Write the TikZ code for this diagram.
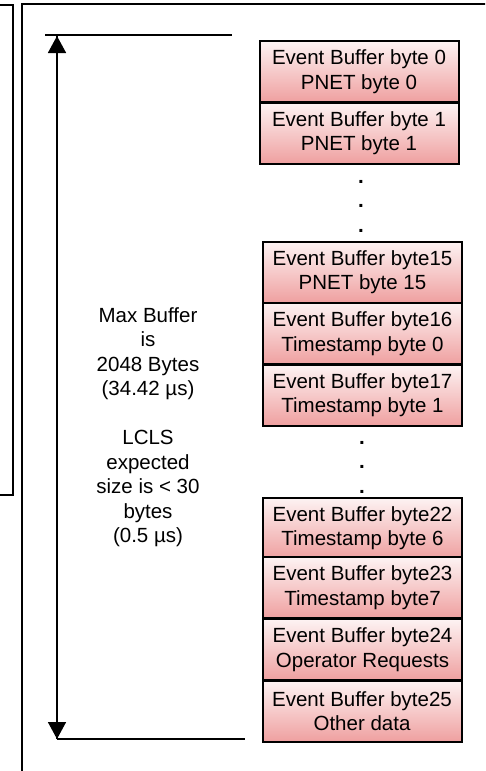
\documentclass[tikz,border=0pt]{standalone}
\usepackage{fontspec}
\setmainfont{Liberation Sans}
\usetikzlibrary{arrows.meta}
\definecolor{gtop}{RGB}{253,243,243}
\definecolor{gbot}{RGB}{239,160,160}
\begin{document}
\begin{tikzpicture}[x=1pt,y=-1pt,
  bytebox/.style={draw, line width=2pt, top color=gtop, bottom color=gbot,
    minimum width=199pt, minimum height=61pt, align=center, inner sep=0pt,
    font=\fontsize{20.5}{24.5}\selectfont},
  lbl/.style={align=center, inner sep=0pt, font=\fontsize{20.5}{24.5}\selectfont},
  dotlbl/.style={align=center, inner sep=0pt, font=\fontsize{20.5}{24.5}\selectfont\bfseries},
  frame/.style={draw, line width=1.8pt},
  dim/.style={line width=1.6pt},
  tip/.style={-{Triangle[length=17pt,width=18pt]}}]
\useasboundingbox (0,0) rectangle (485,771);
\clip (0,0) rectangle (485,771);
% frames
\draw[frame] (-10,5) -- (13,5) -- (13,495) -- (-10,495);
\draw[frame] (22,790) -- (22,4) -- (500,4);
% byte boxes
\node[bytebox] (b0) at (359,71.5) {Event Buffer byte 0\\PNET byte 0};
\node[bytebox] (b1) at (359,133) {Event Buffer byte 1\\PNET byte 1};
\node[dotlbl] (d1) at (361,206) {.\\.\\.};
\node[bytebox] (b15) at (362.5,272) {Event Buffer byte15\\PNET byte 15};
\node[bytebox] (b16) at (362.5,333.5) {Event Buffer byte16\\Timestamp byte 0};
\node[bytebox] (b17) at (362.5,395) {Event Buffer byte17\\Timestamp byte 1};
\node[dotlbl] (d2) at (362,467) {.\\.\\.};
\node[bytebox] (b22) at (362.5,528) {Event Buffer byte22\\Timestamp byte 6};
\node[bytebox] (b23) at (362.5,587.5) {Event Buffer byte23\\Timestamp byte7};
\node[bytebox] (b24) at (362.5,649.5) {Event Buffer byte24\\Operator Requests};
\node[bytebox] (b25) at (362,711) {Event Buffer byte25\\Other data};
% dimension lines
\coordinate (tl) at (45,35);
\coordinate (tr) at (232,35);
\coordinate (bl) at (57,739);
\coordinate (br) at (245,739);
\coordinate (at) at (57,36);
\draw[dim] (tl) -- (tr);
\draw[dim] (bl) -- (br);
\draw[dim,tip] (bl) -- (at);
\draw[dim,tip] (at) -- (bl);
% label
\node[lbl] (txt) at (148,427) {Max Buffer\\is\\2048 Bytes\\(34.42 µs)\\[24.5pt]LCLS\\expected\\size is < 30\\bytes\\(0.5 µs)};
\end{tikzpicture}
\end{document}
